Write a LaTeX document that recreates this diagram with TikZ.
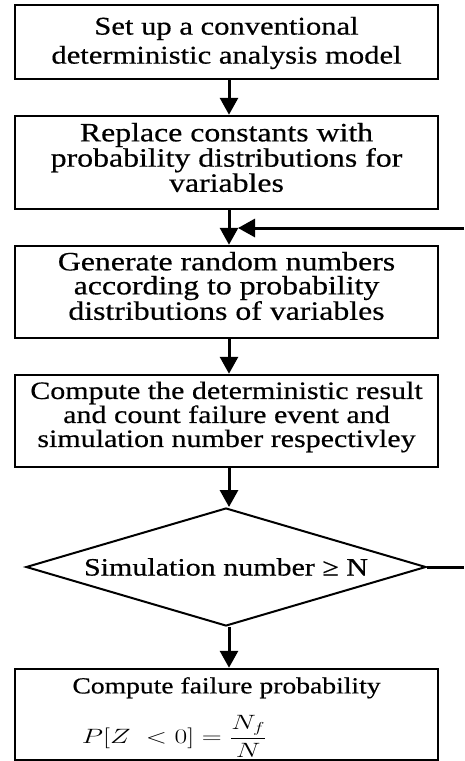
\documentclass[tikz,border=0pt]{standalone}
\usepackage{fontspec}
\setmainfont[FakeStretch=1.2,FakeBold=0.5]{Liberation Serif}
\usepackage{graphicx}
\usetikzlibrary{arrows.meta,shapes.geometric}
\newcommand{\stk}[2][0pt]{\raisebox{#1}[\height][\depth]{\vbox{\halign{\hfil##\hfil\cr#2\crcr}}}}
\begin{document}
\begin{tikzpicture}[x=1pt,y=-1pt,
  box/.style={draw, line width=2.5pt, minimum width=423pt, inner sep=0pt},
  decision/.style={draw, diamond, line width=2pt, minimum width=400pt, minimum height=118pt, aspect=3.4, inner sep=0pt, font=\fontsize{25}{24}\selectfont},
  arr/.style={line width=3pt, -{Triangle[width=18pt,length=17pt]}},
  link/.style={line width=3pt}]
\useasboundingbox (0,0) rectangle (464,761);
\coordinate (ax) at (229,0);
\node[box, minimum height=74pt, font=\fontsize{25.5}{29}\selectfont] (b1) at (226.5,42) {\stk[-1pt]{Set up a conventional\cr deterministic analysis model}};
\node[box, minimum height=93pt, font=\fontsize{26.5}{24}\selectfont] (b2) at (226.5,162.5) {\stk[5pt]{Replace constants with\cr probability distributions for\cr variables}};
\node[box, minimum height=92pt, font=\fontsize{26.5}{24}\selectfont] (b3) at (226.5,292) {\stk[6pt]{Generate random numbers\cr according to probability\cr distributions of variables}};
\node[box, minimum height=92pt, font=\fontsize{25}{24}\selectfont] (b4) at (226.5,421) {\stk[4pt]{Compute the deterministic result\cr and count failure event and\cr simulation number respectivley}};
\node[decision] (d) at (226,567) {Simulation number ≥ N};
\node[box, minimum height=91pt, font=\fontsize{23}{24}\selectfont] (b5) at (226.5,714.5) {\stk[-3pt]{Compute failure probability\cr\noalign{\vskip 16pt}{\fontsize{17}{17}\selectfont\hspace*{-104pt}\scalebox{1.6}[1.2]{$\displaystyle P[Z\;<0]=\frac{N_f}{N}$}}}};
\draw[arr] (b1.south -| ax) -- (b2.north -| ax);
\draw[arr] (b2.south -| ax) -- (b3.north -| ax);
\draw[arr] (b3.south -| ax) -- (b4.north -| ax);
\draw[arr] (b4.south -| ax) -- (d.north -| ax);
\draw[arr] (d.south -| ax) -- (b5.north -| ax);
\coordinate (fbA) at (464,567);
\coordinate (fbB) at (464,228);
\coordinate (fbT) at (238,228);
\draw[link] (d.east) -- (fbA);
\draw[arr] (fbB) -- (fbT);
\end{tikzpicture}
\end{document}
